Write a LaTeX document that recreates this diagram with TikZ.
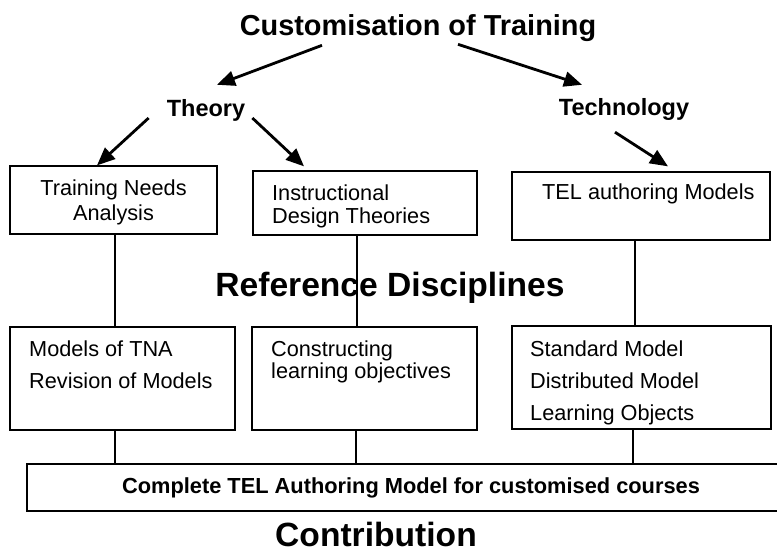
\documentclass[tikz,border=0pt]{standalone}
\usepackage{fontspec}
\setmainfont{Liberation Sans}
\usetikzlibrary{arrows.meta,calc,positioning}

\begin{document}
\begin{tikzpicture}[x=1pt,y=-1pt,every node/.style={inner sep=0pt},
	head/.style={font=\bfseries\fontsize{28.9}{31}\selectfont},
	branch/.style={font=\bfseries\fontsize{23.5}{26}\selectfont},
	big/.style={font=\bfseries\fontsize{33.6}{36}\selectfont},
	box/.style={draw,line width=1.3pt},
	label/.style={font=\fontsize{21.7}{#1}\selectfont,align=left,anchor=base west},
	arr/.style={-{Triangle[length=18pt,width=15pt]},line width=2.8pt},
	link/.style={line width=1.3pt}]
	\useasboundingbox (0,0) rectangle (777,552);

	% headings
	\node[head,anchor=base] (cust) at (418,35) {Customisation of Training};
	\node[branch,anchor=base] (theory) at (206,116) {Theory};
	\node[branch,anchor=base] (tech) at (624,115) {Technology};
	\node[big,anchor=base] (refdisc) at (390,296) {Reference Disciplines};
	\node[big,anchor=base] (contrib) at (376,546) {Contribution};

	% upper boxes (base = last line)
	\node[box,minimum width=207pt,minimum height=68pt] (tna) at (113.5,200) {};
	\node[box,minimum width=224pt,minimum height=64pt] (idt) at (365,203) {};
	\node[box,minimum width=258pt,minimum height=68pt] (telm) at (641,206) {};
	\node[label=25pt,align=center,anchor=base] at (113.5,220) {Training Needs\\Analysis};
	\node[label=22.5pt] at (272,223) {Instructional\\Design Theories};
	\node[label=25pt] at (542,199) {TEL authoring Models};

	% lower boxes
	\node[box,minimum width=225pt,minimum height=103pt] (mtna) at (122.5,378.5) {};
	\node[box,minimum width=225pt,minimum height=103pt] (clo) at (364.5,378.5) {};
	\node[box,minimum width=259pt,minimum height=103pt] (models) at (641.5,377.5) {};
	\node[label=32pt] at (29,388) {Models of TNA\\Revision of Models};
	\node[label=22pt] at (271,378) {Constructing\\learning objectives};
	\node[label=32pt] at (530,420) {Standard Model\\Distributed Model\\Learning Objects};

	% contribution bar
	\node[box,minimum width=768pt,minimum height=47pt,
		font=\bfseries\fontsize{21.8}{24}\selectfont] (complete) at (411,487.5)
		{Complete TEL Authoring Model for customised courses};

	% arrows
	\draw[arr] ($(cust.south)+(-96,4)$) -- ($(theory.north)+(11,-14)$);
	\draw[arr] ($(cust.south)+(40,3)$) -- ($(tech.north)+(-42,-13)$);
	\draw[arr] ($(theory.base west)+(-18,2)$) -- ($(tna.north)+(-16.5,0)$);
	\draw[arr] ($(theory.base east)+(7,2)$) -- ($(idt.north)+(-61,-4)$);
	\draw[arr] ($(tech.south)+(-9,12)$) -- ($(telm.north)+(27,-5)$);

	% links
	\draw[link] ($(tna.south)+(1.5,0)$) -- ($(mtna.north)+(-7.5,0)$);
	\draw[link] ($(idt.south)+(-8,0)$) -- ($(clo.north)+(-7.5,0)$);
	\draw[link] ($(telm.south)+(-6,0)$) -- ($(models.north)+(-6.5,0)$);
	\draw[link] ($(mtna.south)+(-7.5,0)$) -- ($(complete.north)+(-296,0)$);
	\draw[link] ($(clo.south)+(-8.5,0)$) -- ($(complete.north)+(-55,0)$);
	\draw[link] ($(models.south)+(-8.5,0)$) -- ($(complete.north)+(222,0)$);
\end{tikzpicture}
\end{document}
